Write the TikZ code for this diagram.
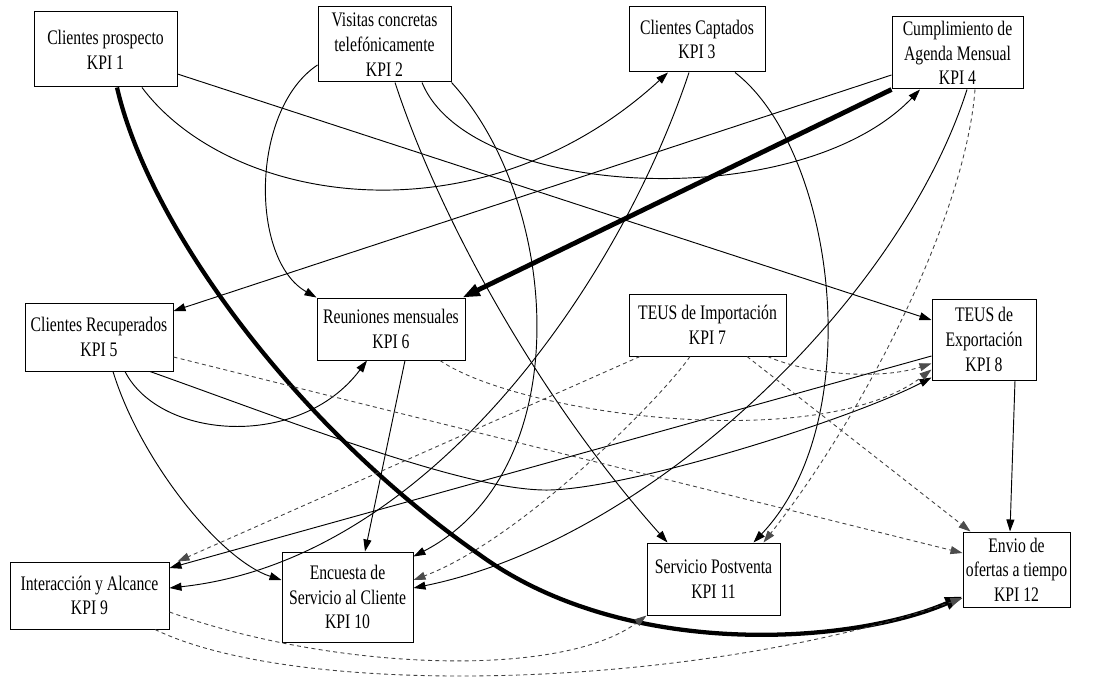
\documentclass[tikz,border=0pt]{standalone}
\usepackage{fontspec}
\setmainfont[FakeStretch=0.76]{Liberation Serif}
\usetikzlibrary{arrows.meta,calc}
\tikzset{
  kpi/.style={draw, line width=0.75pt, fill=white, inner sep=0pt, align=center,
    font=\fontsize{15.5pt}{18.5pt}\selectfont},
  e/.style={line width=0.7pt, -{Triangle[length=9pt,width=6pt]}},
  thickedge/.style={line width=3.2pt, -{Triangle[length=13pt,width=9pt]}},
  dsh/.style={line width=0.65pt, draw=black!75, dash pattern=on 3pt off 2.5pt,
    -{Triangle[length=9pt,width=6pt,color=black!70]}}
}
\begin{document}
\begin{tikzpicture}[x=0.75pt,y=-0.75pt]
\fill[white] (0,0) rectangle (1099,681);
\useasboundingbox (0,0) rectangle (1099,681);

\node[kpi, minimum width=107.25pt, minimum height=56.25pt] (k1) at (105.5,49.5) {Clientes prospecto\\KPI 1};
\node[kpi, minimum width=99.75pt, minimum height=56.25pt] (k2) at (384.5,44.5) {Visitas concretas\\telefónicamente\\KPI 2};
\node[kpi, minimum width=102pt, minimum height=48.75pt] (k3) at (697,39.5) {Clientes Captados\\KPI 3};
\node[kpi, minimum width=98.25pt, minimum height=54pt] (k4) at (957.5,53) {Cumplimiento de\\Agenda Mensual\\KPI 4};
\node[kpi, minimum width=111pt, minimum height=51pt] (k5) at (99,337) {Clientes Recuperados\\KPI 5};
\node[kpi, minimum width=111pt, minimum height=46.5pt] (k6) at (391,329) {Reuniones mensuales\\KPI 6};
\node[kpi, minimum width=117.75pt, minimum height=46.5pt] (k7) at (707.5,325) {TEUS de Importación\\KPI 7};
\node[kpi, minimum width=78pt, minimum height=60.75pt] (k8) at (984,339.5) {TEUS de\\Exportación\\KPI 8};
\node[kpi, minimum width=119.25pt, minimum height=50.25pt] (k9) at (89.5,595.5) {Interacción y Alcance\\KPI 9};
\node[kpi, minimum width=98.25pt, minimum height=67.5pt] (k10) at (347.5,597) {Encuesta de\\Servicio al Cliente\\KPI 10};
\node[kpi, minimum width=99.75pt, minimum height=54pt] (k11) at (713.5,579) {Servicio Postventa\\KPI 11};
\node[kpi, minimum width=80.25pt, minimum height=56.25pt] (k12) at (1016.5,569.5) {Envio de\\ofertas a tiempo\\KPI 12};

% thick edges
\draw[thickedge] ($(k1.south)+(11.5,0)$) .. controls (150,230) and (300,430) .. (480,555)
   .. controls (625,660) and (850,645) .. ($(k12.west)+(0,27)$);
\draw[thickedge, line width=3.6pt] (k4.south west) -- ($(k6.north east)+(-3,0)$);

% solid edges
\draw[e] ($(k1.east)+(0,24.5)$) -- ($(k8.west)+(0,-19.5)$);
\draw[e] ($(k1.south)+(36.5,0)$) .. controls (230,205) and (480,245) .. ($(k3.south)+(-29,0)$);
\draw[e] ($(k2.south)+(37.5,0)$) .. controls (470,200) and (800,215) .. ($(k4.south)+(-37.5,0)$);
\draw[e] ($(k2.west)+(0,20.5)$) .. controls (250,110) and (250,260) .. (k6.north west);
\draw[e] ($(k2.south)+(10.5,0)$) .. controls (440,220) and (540,400) .. ($(k11.north west)+(21,0)$);
\draw[e] (k2.south east) .. controls (560,200) and (580,470) .. ($(k10.north east)+(0,5)$);
\draw[e] ($(k3.south)+(-8,0)$) .. controls (620,280) and (430,560) .. ($(k9.east)+(0,-7.5)$);
\draw[e] ($(k3.south)+(38,0)$) .. controls (835,150) and (870,420) .. ($(k11.north)+(40,0)$);
\draw[e] ($(k4.west)+(0,22)$) -- ($(k5.east)+(0,-26)$);
\draw[e] ($(k4.south)+(9.5,0)$) .. controls (900,300) and (650,540) .. ($(k10.east)+(0,-9)$);
\draw[e] ($(k5.south)+(26,0)$) .. controls (160,440) and (300,450) .. ($(k6.south)+(-24,0)$);
\draw[e] ($(k5.south)+(14,0)$) .. controls (140,460) and (220,560) .. ($(k10.west)+(0,-17)$);
\draw[e] ($(k5.south)+(51,0)$) .. controls (300,425) and (460,488) .. (543,490)
   .. controls (620,492) and (850,420) .. ($(k8.south west)+(0,-3)$);
\draw[e] ($(k6.south)+(14,0)$) -- ($(k10.north)+(17.5,0)$);
\draw[e] ($(k8.west)+(0,16.5)$) -- ($(k9.east)+(0,-27.5)$);
\draw[e] ($(k8.south)+(31,0)$) -- ($(k12.north)+(-6.5,0)$);

% dashed edges
\draw[dsh] ($(k4.south)+(17.5,0)$) .. controls (965,220) and (860,420) .. ($(k11.north)+(50,0)$);
\draw[dsh] ($(k6.south)+(49,0)$) .. controls (520,415) and (820,455) .. ($(k8.west)+(0,30)$);
\draw[dsh] ($(k7.south east)+(-19,0)$) .. controls (810,375) and (880,380) .. ($(k8.west)+(0,24)$);
\draw[dsh] ($(k7.south)+(39.5,0)$) -- ($(k12.north west)+(8,0)$);
\draw[dsh] ($(k7.south)+(-67.5,0)$) -- ($(k9.north east)+(8,0)$);
\draw[dsh] ($(k7.south)+(-17.5,0)$) .. controls (660,400) and (520,540) .. ($(k10.east)+(0,-17)$);
\draw[dsh] ($(k5.east)+(0,20)$) -- ($(k12.west)+(0,-16.5)$);
\draw[dsh] ($(k9.east)+(0,16.5)$) .. controls (330,670) and (560,680) .. (k11.south west);
\draw[dsh] ($(k9.south)+(65.5,0)$) .. controls (300,700) and (700,690) .. ($(k12.west)+(0,28.5)$);
\end{tikzpicture}
\end{document}
